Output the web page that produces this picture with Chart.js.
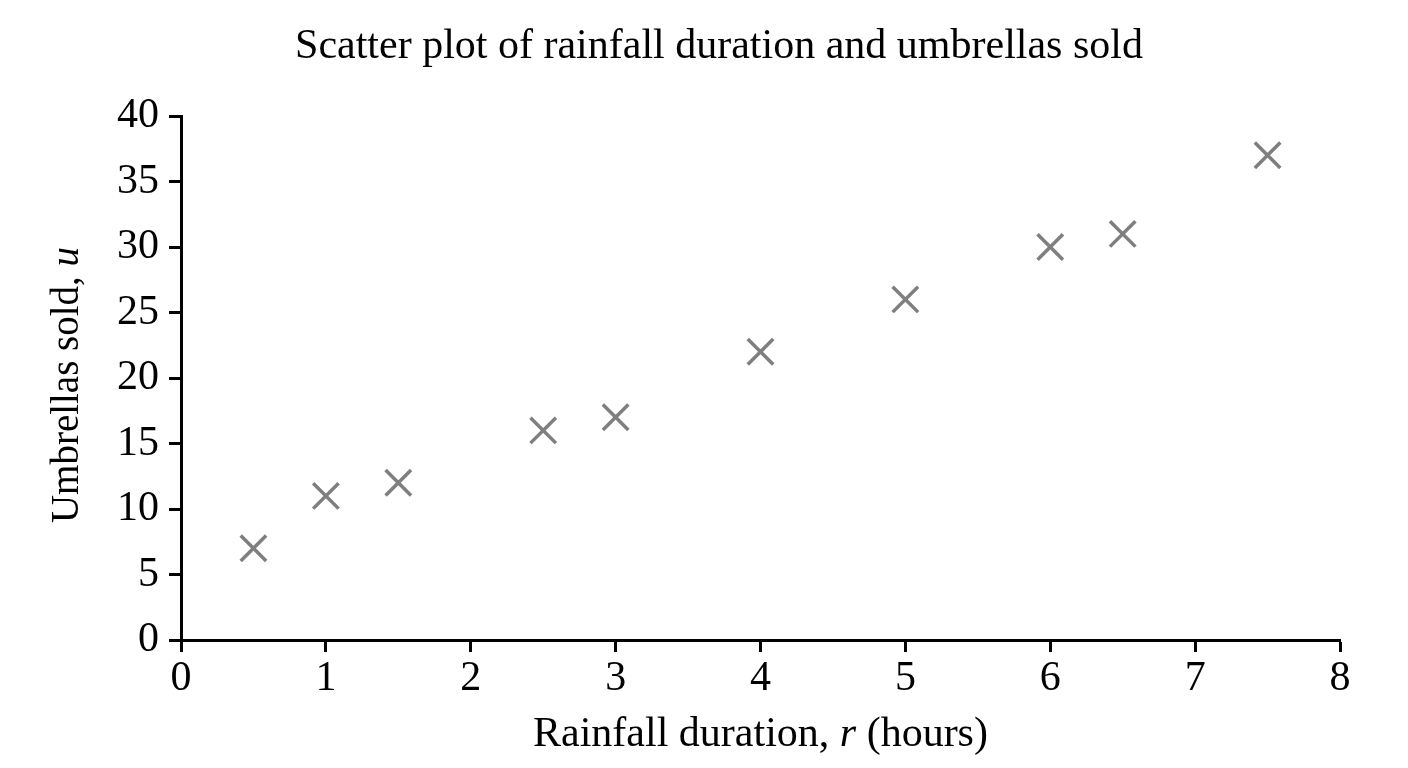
<!DOCTYPE html>
<html>
<head>
<meta charset="utf-8">
<script src="https://cdn.jsdelivr.net/npm/chart.js@4"></script>
<style>
  html, body { margin: 0; padding: 0; background: #fff; }
  #wrap { width: 1408px; height: 768px; }
</style>
</head>
<body>
<div id="wrap"><canvas id="grafica" width="1408" height="768"></canvas></div>
<script>
/* Datos */
const rainfallHours = [0.5, 1, 1.5, 2.5, 3, 4, 5, 6, 6.5, 7.5];
const umbrellasSold = [7, 11, 12, 16, 17, 22, 26, 30, 31, 37];

const xTicks = [0, 1, 2, 3, 4, 5, 6, 7, 8];
const yTicks = [0, 5, 10, 15, 20, 25, 30, 35, 40];

const titleParts = [{text: 'Scatter plot of rainfall duration and umbrellas sold'}];
const xTitleParts = [{text: 'Rainfall duration, '}, {text: 'r', italic: true}, {text: ' (hours)'}];
const yTitleParts = [{text: 'Umbrellas sold, '}, {text: 'u', italic: true}];

const serif = '"Liberation Serif", "Times New Roman", serif';
const fontSize = 42;

// dibuja un texto en partes (algunas en cursiva), centrado en (cx, cy)
function drawParts(ctx, parts, cx, cy, angle, size) {
    ctx.save();
    ctx.translate(cx, cy);
    ctx.rotate(angle);
    ctx.textBaseline = 'middle';
    ctx.textAlign = 'left';
    ctx.fillStyle = '#000';
    let widths = parts.map(p => {
        ctx.font = (p.italic ? 'italic ' : '') + size + 'px ' + serif;
        return ctx.measureText(p.text).width;
    });
    let total = widths.reduce((a, b) => a + b, 0);
    let x = -total / 2;
    parts.forEach((p, i) => {
        ctx.font = (p.italic ? 'italic ' : '') + size + 'px ' + serif;
        ctx.fillText(p.text, x, 0);
        x += widths[i];
    });
    ctx.restore();
}

const textos = {
    id: 'textos',
    afterDraw(chart) {
        const {ctx, chartArea} = chart;
        drawParts(ctx, titleParts, 719, 47, 0, fontSize);
        drawParts(ctx, xTitleParts, (chartArea.left + chartArea.right) / 2, 735, 0, fontSize);
        drawParts(ctx, yTitleParts, 68, (chartArea.top + chartArea.bottom) / 2 + 7, -Math.PI / 2, 39);
    }
};

const tickFont = {family: serif, size: fontSize};

let ctx = document.getElementById('grafica').getContext('2d');
let grafica = new Chart(ctx, {
    type: 'scatter',
    data: {
        datasets: [{
            label: 'Umbrellas sold',
            data: rainfallHours.map((r, i) => ({x: r, y: umbrellasSold[i]})),
            pointStyle: 'crossRot',
            pointRadius: 18,
            pointHoverRadius: 18,
            pointBorderWidth: 3.5,
            borderColor: '#7f7f7f',
            backgroundColor: '#7f7f7f'
        }]
    },
    options: {
        responsive: false,
        animation: false,
        layout: {
            padding: {left: 0, right: 68, top: 116, bottom: 0}
        },
        plugins: {
            legend: {display: false},
            tooltip: {enabled: false},
            title: {display: false}
        },
        scales: {
            x: {
                type: 'linear',
                min: 0,
                max: 8,
                afterFit(scale) { scale.height = 128; },
                afterBuildTicks(scale) { scale.ticks = xTicks.map(v => ({value: v})); },
                border: {color: '#000', width: 3},
                grid: {drawOnChartArea: false, tickLength: 12, tickColor: '#000', tickWidth: 3},
                ticks: {color: '#000', font: tickFont, padding: 2, maxRotation: 0}
            },
            y: {
                type: 'linear',
                min: 0,
                max: 40,
                afterFit(scale) { scale.width = 181; },
                afterBuildTicks(scale) { scale.ticks = yTicks.map(v => ({value: v})); },
                border: {color: '#000', width: 3},
                grid: {drawOnChartArea: false, tickLength: 12, tickColor: '#000', tickWidth: 3},
                ticks: {color: '#000', font: tickFont, padding: 10}
            }
        }
    },
    plugins: [textos]
});
</script>
</body>
</html>
